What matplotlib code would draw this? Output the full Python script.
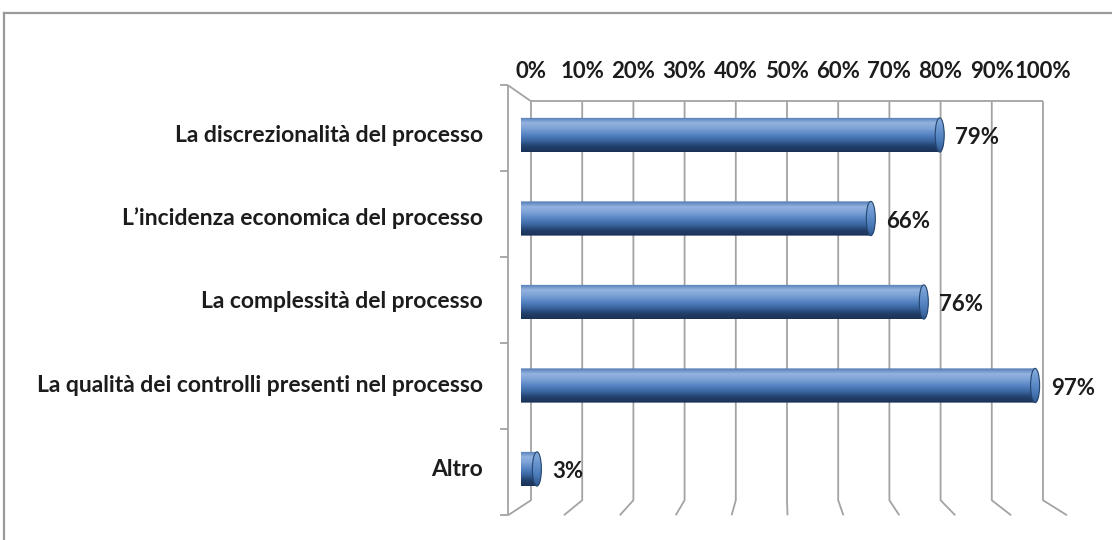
import numpy as np
import matplotlib.pyplot as plt
from matplotlib.colors import LinearSegmentedColormap
from matplotlib.path import Path
from matplotlib.patches import PathPatch, Ellipse
from matplotlib.lines import Line2D

categories = ["La discrezionalità del processo",
              "L\u2019incidenza economica del processo",
              "La complessità del processo",
              "La qualità dei controlli presenti nel processo",
              "Altro"]
values = [79, 66, 76, 97, 3]
ticks = [0, 10, 20, 30, 40, 50, 60, 70, 80, 90, 100]
tick_labels = [f"{t}%" for t in ticks]

plt.rcParams['font.family'] = ['Lato', 'DejaVu Sans']
text_col = '#1c1c1c'
grid_col = '#a3a3a3'
fs = 16.5

fig = plt.figure(figsize=(11.12, 5.40), dpi=100)
# axes = plane of the bars (middle depth of the 3d box)
ax = fig.add_axes([521 / 1112, (540 - 510.75) / 540, 530 / 1112, 417.5 / 540])
n = len(categories)
ax.set_xlim(0, 100)
ax.set_ylim(n - 0.5, -0.5)
ax.axis('off')

# back wall and front edge, expressed in bar-plane units
def back(x, y):
    return 1.887 + 0.966 * np.asarray(x), -0.404 + (np.asarray(y) + 0.5) * 0.9556

def front(x, y):
    return -2.453 + 1.0547 * np.asarray(x), -0.596 + (np.asarray(y) + 0.5) * 1.03

top, bot = -0.5, n - 0.5
gkw = dict(color=grid_col, lw=1.3, clip_on=False, zorder=1, solid_capstyle='butt')

# gridlines on back wall + floor diagonals
for t in ticks:
    bx, by_top = back(t, top)
    _, by_bot = back(t, bot)
    fx, fy_bot = front(t, bot)
    ax.plot([bx, bx, fx], [by_top, by_bot, fy_bot], **gkw)
# top edge of back wall
bx0, byt = back(0, top)
bx1, _ = back(100, top)
ax.plot([bx0, bx1], [byt, byt], **gkw)
# left wall
fx0, fyt = front(0, top)
_, fyb = front(0, bot)
ax.plot([fx0, fx0], [fyt, fyb], **gkw)
ax.plot([fx0, bx0], [fyt, byt], **gkw)
for k in range(n + 1):
    _, fy = front(0, k - 0.5)
    ax.plot([fx0 - 1.5, fx0], [fy, fy], **gkw)

# tick labels above back wall
for t, lab in zip(ticks, tick_labels):
    bx, _ = back(t, top)
    ax.text(bx, byt - 0.36, lab, ha='center', va='center', fontsize=fs - 0.5,
            color=text_col, fontweight='bold')

# category labels
for i, c in enumerate(categories):
    ax.text(-7.2, i, c, ha='right', va='center', fontsize=fs,
            color=text_col, fontweight='bold')

# cylinder bars
body_cmap = LinearSegmentedColormap.from_list(
    'body', ['#4f79b3', '#93b3df', '#7ba1d5', '#5684c2', '#3b67a2', '#22406b', '#1a3156'])
cap_cmap = LinearSegmentedColormap.from_list(
    'cap', ['#8aaedd', '#6a95cf', '#4c7cbb', '#2f5790'])
grad = np.linspace(0, 1, 256).reshape(-1, 1)
rx, hh = 0.85, 0.205
th = np.linspace(0, np.pi, 60)
for i, v in enumerate(values):
    lx = -rx * np.sin(th)
    ly = i - hh * np.cos(th)
    rxs = v + rx * np.sin(th)
    rys = i + hh * np.cos(th)
    verts = np.column_stack([np.concatenate([lx, rxs]), np.concatenate([ly, rys])])
    path = Path(np.vstack([verts, verts[:1]]), closed=True)
    patch = PathPatch(path, transform=ax.transData, fc='none', ec='none')
    ax.add_patch(patch)
    im = ax.imshow(grad, cmap=body_cmap, aspect='auto', origin='upper',
                   extent=(-rx, v + rx, i + hh, i - hh), zorder=3)
    im.set_clip_path(patch)
    cap = Ellipse((v, i), 2 * rx, 2 * hh, fc='none', ec='#24466f', lw=0.8, zorder=5)
    ax.add_patch(cap)
    im2 = ax.imshow(grad, cmap=cap_cmap, aspect='auto', origin='upper',
                    extent=(v - rx, v + rx, i + hh, i - hh), zorder=4)
    im2.set_clip_path(cap)
    ax.annotate(f"{v}%", (v + rx, i + 0.03), xytext=(8, 0), textcoords='offset points',
                ha='left', va='center', fontsize=fs - 0.5, color=text_col, fontweight='bold',
                zorder=6)

ax.set_xlim(0, 100)
ax.set_ylim(n - 0.5, -0.5)

# outer chart frame
fig.add_artist(Line2D([4 / 1112, 4 / 1112], [0, 1 - 13 / 540], color='#9a9a9a', lw=1.6))
fig.add_artist(Line2D([4 / 1112, 1], [1 - 13 / 540, 1 - 13 / 540], color='#9a9a9a', lw=1.6))

fig.savefig('out.png', dpi=100)
